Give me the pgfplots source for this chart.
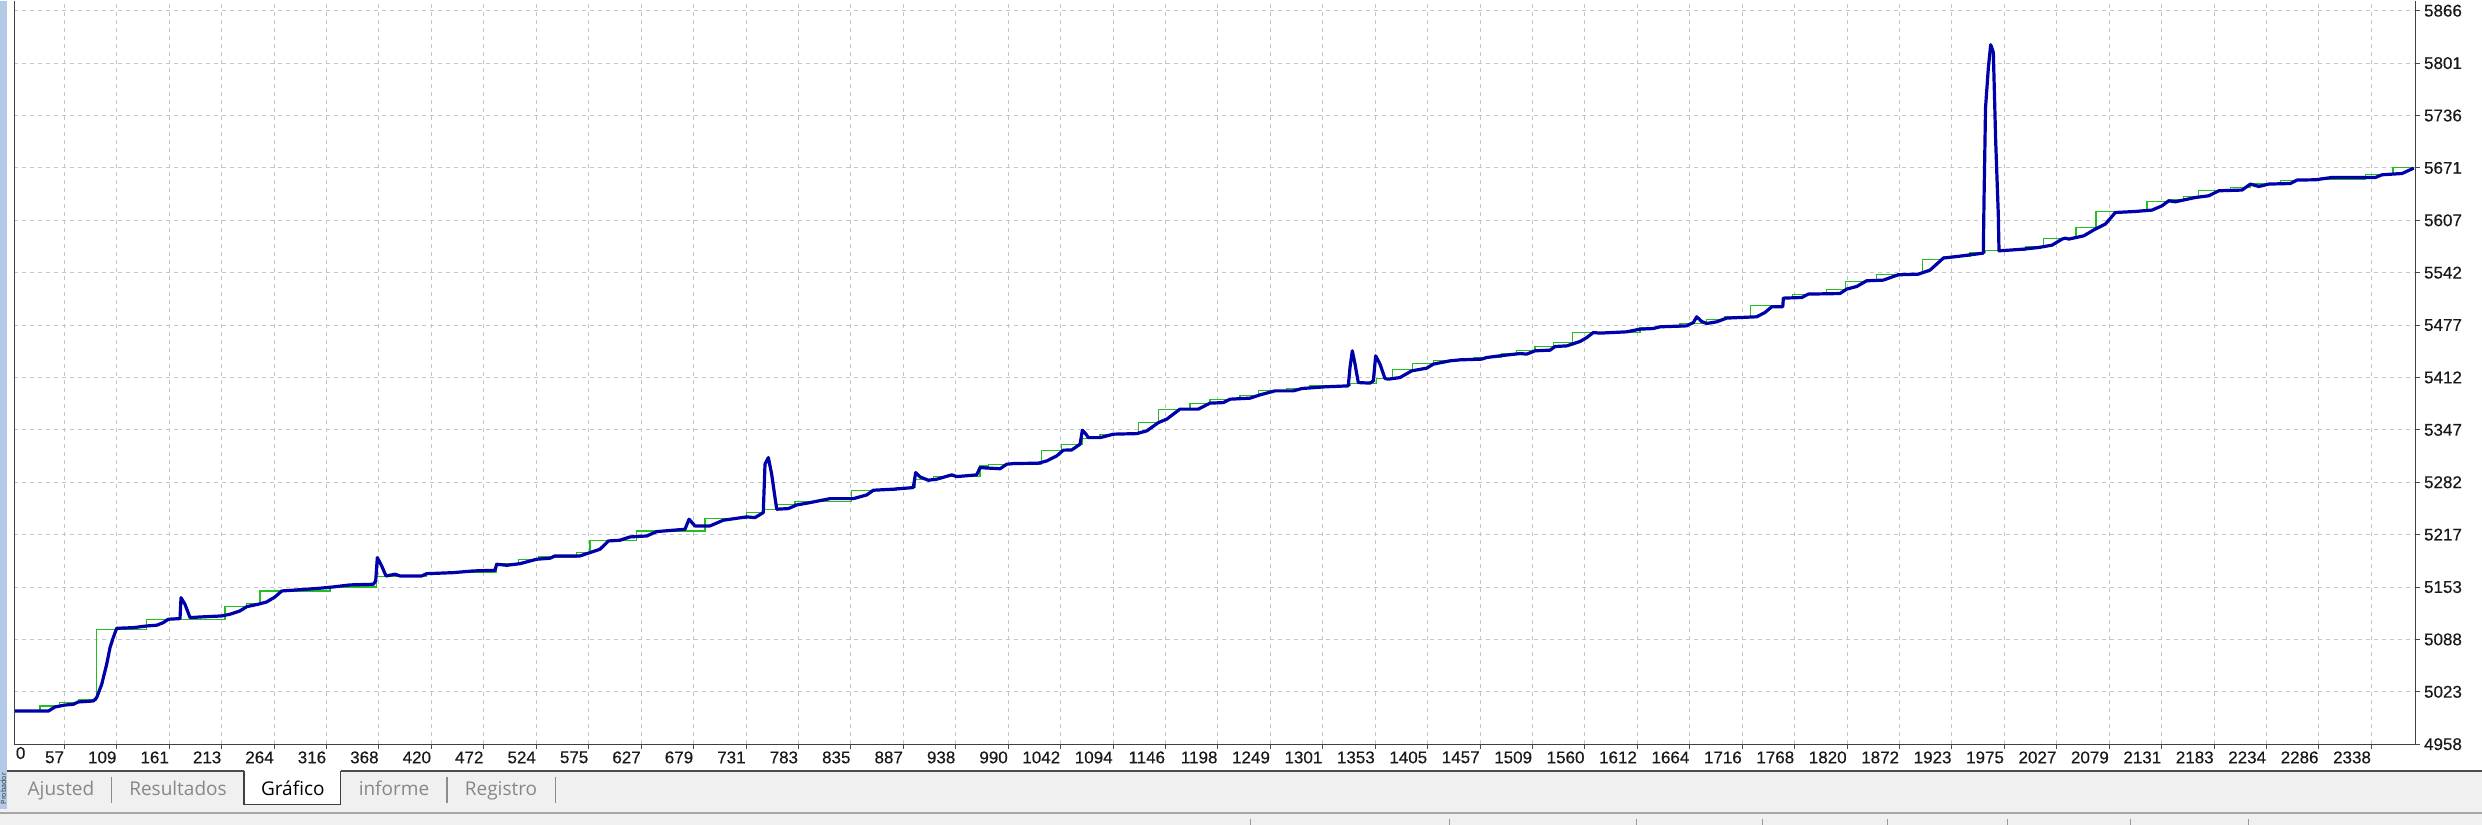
\documentclass[border=0pt]{standalone}
\usepackage{fontspec}
\setmainfont{Liberation Sans}
\newfontfamily\tabfont{Open Sans}
\newfontfamily\tickfont[FakeBold=0.35]{Liberation Sans}
\usepackage{pgfplots}
\pgfplotsset{compat=1.18}

\definecolor{eqblue}{RGB}{0,0,170}
\definecolor{balgreen}{RGB}{34,190,34}
\definecolor{gridgray}{RGB}{198,198,198}
\definecolor{barbg}{RGB}{240,240,240}
\definecolor{stripblue}{RGB}{178,202,230}
\definecolor{tabtext}{RGB}{135,135,135}

\begin{document}
\begin{tikzpicture}
% window frame, drawn in pixel units (origin top left, y downwards)
\begin{scope}[x=0.5pt,y=-0.5pt]
\useasboundingbox (0,0) rectangle (2482,824);
\fill[white] (0,0) rectangle (2482,770);
\fill[barbg] (0,770) rectangle (2482,824);
\fill[stripblue] (0,0) rectangle (7,808);
\node[rotate=90, anchor=base west, inner sep=0pt, text=black!80, font=\tabfont\fontsize{3.6}{4}\selectfont] at (6,804) {Probador};
% tab bar
\draw[black!70, line width=1pt] (7,770) -- (244,770);
\draw[black!70, line width=1pt] (340.5,770) -- (2482,770);
\fill[white] (244,770) rectangle (340.5,804);
\draw[black!75, line width=0.7pt] (244,770) -- (244,804) -- (340.5,804) -- (340.5,770);
\foreach \sx in {111.7,447,555.7} \draw[black!45, line width=0.6pt] (\sx,776) -- (\sx,802);
\begin{scope}[every node/.style={font=\tabfont\fontsize{9.5}{11}\selectfont, inner sep=0pt, anchor=base}]
\node[text=tabtext] at (61,795) {Ajusted};
\node[text=tabtext] at (178,795) {Resultados};
\node[text=black] at (292.8,795) {Gráfico};
\node[text=tabtext] at (394,795) {informe};
\node[text=tabtext] at (501,795) {Registro};
\end{scope}
% status bar
\fill[black!35] (0,811) rectangle (2482,813.5);
\foreach \sx in {1250,1449,1636,1762,1887,2007,2130,2248} \draw[black!40, line width=0.5pt] (\sx,818) -- (\sx,824);
\end{scope}

\begin{axis}[
  at={(7.15pt,-371.75pt)}, anchor=south west,
  scale only axis, width=1200.5pt, height=371.75pt,
  xmin=7.46, xmax=2381.4, ymin=4958, ymax=5878.4,
  axis line style={draw=none},
  xtick={57,108.84,160.68,212.52,264.36,316.2,368.04,419.88,471.72,523.56,575.4,627.24,679.08,730.92,782.76,834.6,886.44,938.28,990.12,1041.96,1093.8,1145.64,1197.48,1249.32,1301.16,1353,1404.84,1456.68,1508.52,1560.36,1612.2,1664.04,1715.88,1767.72,1819.56,1871.4,1923.24,1975.08,2026.92,2078.76,2130.6,2182.44,2234.28,2286.12,2337.96},
  xticklabels={57,109,161,213,264,316,368,420,472,524,575,627,679,731,783,835,887,938,990,1042,1094,1146,1198,1249,1301,1353,1405,1457,1509,1560,1612,1664,1716,1768,1820,1872,1923,1975,2027,2079,2131,2183,2234,2286,2338},
  ytick={4958,5022.86,5087.71,5152.57,5217.43,5282.29,5347.14,5412,5476.86,5541.71,5606.57,5671.43,5736.29,5801.14,5866},
  yticklabels={4958,5023,5088,5153,5217,5282,5347,5412,5477,5542,5607,5671,5736,5801,5866},
  extra x ticks={7.46}, extra x tick labels={0},
  extra x tick style={grid=none, major tick length=0pt, xticklabel style={anchor=north west, xshift=0.6pt}},
  xtick pos=bottom, ytick pos=right, yticklabel pos=right,
  tick align=outside, major tick length=2.2pt,
  tick style={black!70, line width=0.5pt},
  grid=major,
  major grid style={gridgray, dash pattern=on 2pt off 2pt, line width=0.5pt},
  /pgf/number format/assume math mode=true,
  ticklabel style={font=\tickfont\fontsize{8.5}{9}\selectfont, text=black!90, inner sep=0pt},
  xticklabel style={anchor=north east, yshift=-1.2pt},
  yticklabel style={anchor=west, xshift=2pt},
  clip=true,
]
% balance (green steps)
\addplot[const plot, balgreen, line width=0.6pt] coordinates {
(8,4999.1)(32.9,5005.3)(52,5009.4)(70.7,5012.7)(88.9,5100.3)(138.4,5112.7)(215.8,5128.3)(237.3,5132)(250.4,5147.7)(319.6,5152.7)(365.8,5165.5)(415.2,5170.4)(483.7,5181.2)(505.8,5187)(525.6,5189.8)(563.5,5195.2)(576.7,5210.5)(622.9,5222)(690.4,5237.8)(731.6,5244.7)(748,5248.9)(761.3,5255.1)(779.4,5258.3)(835.4,5271.6)(880,5275.7)(898,5286.1)(916.1,5289.3)(962.3,5302.5)(970.5,5303.8)(1023.3,5321.1)(1043.1,5329.4)(1063.3,5336.5)(1081,5341)(1118.8,5356.1)(1138.6,5372.8)(1169.9,5380.2)(1189.7,5385.1)(1219.4,5389.2)(1237.5,5395.4)(1265.5,5398.3)(1288.6,5401.6)(1328.1,5405)(1354.5,5410.7)(1370.3,5422.3)(1390.1,5429.7)(1410.5,5433.4)(1450,5436.7)(1478.1,5442.1)(1493,5445)(1511.1,5449.9)(1529.2,5455.3)(1548.3,5467.6)(1614.9,5473.8)(1654.4,5478.8)(1680.8,5483.3)(1698.9,5487.1)(1724.3,5500.7)(1756.3,5510.6)(1765.8,5514.4)(1799.5,5521)(1818.3,5530.9)(1848.9,5539.1)(1870,5541)(1894.4,5558.5)(1914.8,5561.3)(1941.2,5566.7)(1956,5568.8)(1995.8,5574.1)(2014,5584.5)(2046,5597.8)(2065.7,5617.1)(2116.1,5629.8)(2137.6,5632.8)(2152.4,5636)(2167.3,5643.1)(2198.5,5647.2)(2218,5651.4)(2248,5655.5)(2267.5,5657.3)(2332.1,5662.9)(2359.3,5671.9)(2379.9,5671.9)
};
% equity (blue)
\addplot[eqblue, line width=1.6pt, line join=round] coordinates {
(8,4999.1)(41.1,4999)(47.7,5004.1)(57.6,5006.5)(65.8,5007.4)(70.7,5010.3)(85.6,5011.5)(88.9,5015.6)(93.9,5032.2)(98.8,5057)(102.1,5077.6)(105.3,5090)(108.7,5101.5)(125.1,5102.3)(138.4,5104.4)(148.3,5105.3)(154.8,5108.5)(159.7,5112.7)(171.3,5113.5)(172.3,5139.4)(176.2,5131.3)(181.2,5114.7)(191.1,5115.5)(212.5,5116.8)(220.7,5118.9)(230.6,5123)(237.3,5128.3)(248.7,5131.3)(257,5134.1)(265.2,5140.3)(271.9,5147.7)(286.7,5149)(309.7,5151.1)(322.9,5152.7)(339.4,5155.2)(362.4,5156)(364.8,5160.1)(366.4,5189)(370.7,5178.7)(375,5166.3)(378.9,5167.2)(383.9,5168.4)(388.8,5166.3)(410.3,5166.3)(415.2,5169.1)(441.5,5170.4)(461.3,5172.5)(482.8,5173.3)(484.4,5180.8)(494.3,5179.5)(507.5,5181.5)(524,5187)(537.1,5188.2)(542.1,5191.1)(566.8,5191.1)(576.7,5195.2)(586.6,5199.4)(594.8,5209.6)(606.3,5210.5)(616.2,5214.6)(632.8,5215.8)(642.6,5221.2)(670.6,5224.1)(674.6,5236.5)(680.5,5228.2)(695.3,5228.2)(708.5,5235.3)(731.6,5239.4)(739.8,5238.5)(748,5244.7)(749.7,5304.7)(753,5312.8)(756.3,5292.3)(759.6,5263.3)(761.3,5248.9)(772.8,5249.7)(781.1,5254.2)(794.2,5257.1)(814,5262)(837,5262)(850.3,5266.6)(856.8,5272.4)(876.6,5273.7)(896.3,5275.7)(898.7,5294.2)(903,5288.9)(911.2,5284.8)(919.5,5286.1)(934.3,5291.4)(939.3,5289.3)(959,5291.4)(962.3,5300.4)(982.1,5299)(988.7,5304.6)(995.2,5305.4)(1019.9,5305.9)(1028.3,5308.7)(1038.1,5314.9)(1044.7,5322)(1053,5322.3)(1061.2,5329.4)(1063.5,5346.7)(1067.1,5341.8)(1069.4,5337.5)(1081,5337.5)(1094.1,5341.8)(1117.2,5342.5)(1127.2,5345.9)(1138.6,5356.1)(1146.9,5360.4)(1160,5372.8)(1178.1,5372.8)(1189.7,5380.2)(1202.9,5380.9)(1209.5,5385.1)(1229.3,5386.4)(1239.2,5390.5)(1254,5395.4)(1272.1,5395.4)(1280.4,5398.3)(1303.4,5400.4)(1326.4,5401.6)(1328.1,5424.3)(1330.4,5445)(1333.1,5428.5)(1336.3,5405.7)(1347.9,5405)(1351.2,5407.8)(1353.5,5438.8)(1357.8,5428.5)(1362.7,5410.7)(1366,5409.9)(1377.6,5411.9)(1389.1,5420.2)(1403.9,5423.5)(1410.5,5428.5)(1427,5432.6)(1436.9,5433.8)(1458.3,5434.7)(1463.3,5436.7)(1476.4,5438.8)(1496.2,5441.6)(1502.8,5440.9)(1511.1,5445)(1525.9,5445.8)(1530.8,5450.3)(1542.4,5451.1)(1555.5,5456.5)(1562.2,5461.4)(1568.7,5467.6)(1575.3,5466.9)(1601.7,5468.5)(1614.9,5471.8)(1628,5472.6)(1634.6,5474.7)(1661,5475.9)(1667.6,5480)(1670.9,5487.1)(1675.8,5481.3)(1680.8,5478.8)(1690.7,5480.9)(1700.6,5485.5)(1730.2,5487.1)(1738.5,5492.5)(1745.1,5499.5)(1756,5499.5)(1756.6,5510.2)(1774.8,5511)(1781.3,5515.2)(1812.6,5515.9)(1819.2,5521.4)(1829.1,5524.6)(1838.9,5531.7)(1855.4,5532.5)(1870.2,5539.1)(1890,5539.9)(1901.6,5544.9)(1914.8,5559.8)(1931.2,5562.2)(1954.3,5565.9)(1955,5632.8)(1956.5,5746.2)(1959.3,5795.8)(1961.6,5823.9)(1964.2,5814.4)(1966.5,5705.4)(1969.1,5614.2)(1969.8,5568.8)(1981,5569.7)(1994.2,5570.9)(2009.1,5572.9)(2022.2,5575.8)(2032.2,5583.3)(2035.4,5584.5)(2038.8,5583.3)(2053.6,5587.3)(2065,5595.7)(2075,5601.9)(2084.8,5616.2)(2104.6,5617.5)(2121.1,5619.2)(2131,5624.5)(2137.6,5630.7)(2144.2,5629.5)(2164,5634.8)(2177.2,5636.9)(2187.1,5643.1)(2210.1,5644)(2218.3,5651.4)(2226.7,5648.4)(2236.5,5651.4)(2257.9,5652.1)(2264.5,5656.4)(2282.6,5656.7)(2299,5659.6)(2342,5659.6)(2348.5,5662.9)(2368.3,5664.5)(2379.9,5671.2)
};
\end{axis}

% chart border: left, bottom and right edges
\begin{scope}[x=0.5pt,y=-0.5pt]
\draw[black!75, line width=0.7pt] (14.3,0) -- (14.3,743.5) -- (2415.3,743.5) -- (2415.3,0);
\end{scope}
\end{tikzpicture}
\end{document}
